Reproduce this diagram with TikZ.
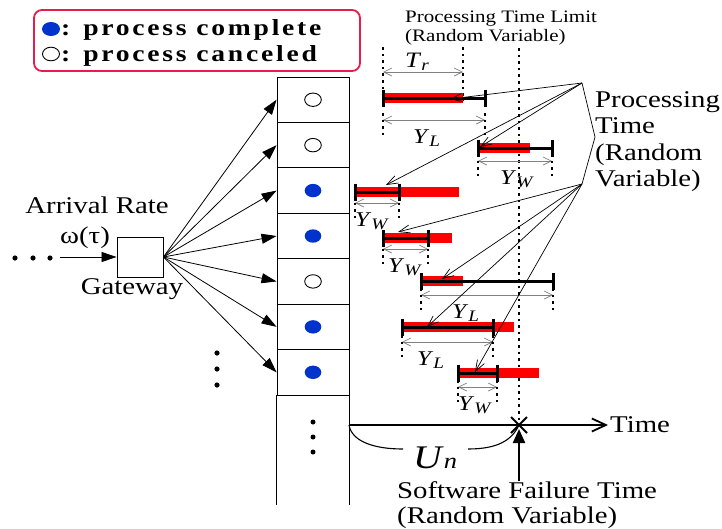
\documentclass[tikz,border=0pt]{standalone}
\usepackage{fontspec}
\setmainfont[FakeStretch=1.2]{Liberation Serif}
\newfontfamily\legendfont[FakeStretch=1.2,LetterSpace=12]{Liberation Serif}
\usetikzlibrary{arrows.meta}
\usetikzlibrary{positioning}
\definecolor{legendred}{RGB}{232,28,72}
\definecolor{doneblue}{RGB}{0,51,204}
\newcommand{\fsz}[1]{\fontsize{#1}{#1}\selectfont}
\newcommand{\rvar}[2]{\textit{#1}\raisebox{-0.15em}{\fsz{16}\textit{#2}}}

\begin{document}
\begin{tikzpicture}[x=1pt, y=-1pt, font=\fsz{24},
  every node/.style={inner sep=0pt},
  cell/.style={draw, line width=0.9pt, minimum width=72pt, minimum height=45.43pt},
  donemark/.style={fill=doneblue},
  cancelmark/.style={draw, fill=white, line width=0.9pt},
  feed/.style={line width=0.8pt, -{Triangle[length=15pt,width=10pt]}},
  pointer/.style={line width=0.7pt, -{Straight Barb[length=11pt,width=8pt]}},
  dimline/.style={gray, line width=0.7pt, {Straight Barb[length=8pt,width=8pt]}-{Straight Barb[length=8pt,width=8pt]}},
  dotline/.style={line width=2.4pt, dash pattern=on 2.6pt off 4pt},
  redbar/.style={red, line width=10pt},
  spanline/.style={line width=3pt},
]
\useasboundingbox (0,0) rectangle (722,528);

% legend
\node[draw=legendred, line width=1.8pt, rounded corners=8pt,
      minimum width=326pt, minimum height=61pt] (legend) at (197,40.5) {};
\fill[doneblue] (51,29) ellipse (9 and 7);
\draw[line width=0.9pt] (51,54) ellipse (8.5 and 6.8);
\node[anchor=base west] (done) at (61,35) {\legendfont\bfseries\fsz{23}: process complete};
\node[anchor=base west] (cancel) at (61,61) {\legendfont\bfseries\fsz{23}: process canceled};

% gateway
\node[draw, line width=0.9pt, minimum width=46pt, minimum height=40pt] (gw) at (140,257) {};
\node (rate) at (97,205) {Arrival Rate};
\node (omega) at (85,238) {ω(τ)};
\node[below=1pt] (gwlbl) at ([xshift=-8pt]gw.south) {Gateway};
\coordinate (src) at (60,257);
\draw[feed] (src) -- (gw.west);
\foreach \x in {15,33,50} \fill (\x,258) circle (2.6);

% cells
\foreach \i/\state in {1/cancelmark,2/cancelmark,3/donemark,4/donemark,5/cancelmark,6/donemark,7/donemark} {
  \node[cell] (c\i) at (313,{77+45.43*(\i-0.5)}) {};
  \path[\state] (c\i) ellipse (8.3 and 6.7);
  \draw[feed] (gw.east) -- (c\i.west);
}
\draw[line width=0.9pt] (c7.south west) -- ++(0,110) (c7.south east) -- ++(0,110);
\foreach \y in {422,437,452} \fill (313,\y) circle (2.5);
\foreach \y in {353,369,385} \fill (217,\y) circle (2.6);

% time axis
\coordinate (origin) at (349,425);
\coordinate (fail) at (519,425);
\coordinate (tend) at (608,425);
\draw[line width=1.8pt, -{Straight Barb[length=14pt,width=13pt]}] (origin) -- (tend);
\node[right=2pt] (timelbl) at (tend) {Time};
\draw[line width=1.8pt] ([shift={(-8,-8)}]fail) -- ([shift={(8,8)}]fail)
  ([shift={(-8,8)}]fail) -- ([shift={(8,-8)}]fail);
\draw[dotline] (519,48) -- (fail);

\draw[line width=1.1pt] (origin) .. controls (352,442) and (375,449) .. (403,449);
\draw[line width=1.1pt] (468,449) .. controls (498,449) and (512,440) .. (fail);
\node[anchor=base west] (un) at (413,468) {\fsz{33}\textit{U}\fsz{22}\textit{n}};

\node[anchor=north west, align=left, font=\fontsize{24}{25}\selectfont] (swf) at (397,481)
  {Software Failure Time\\(Random Variable)};
\draw[line width=2.2pt, -{Triangle[length=14pt,width=12pt]}, shorten >=4pt] (swf.north -| fail) -- (fail);

% time limit
\node[anchor=north west, align=left, font=\fontsize{17.5}{19}\selectfont] (limit) at (405,11)
  {Processing Time Limit\\(Random Variable)};
\draw[dotline] (383,47) -- (383,92);
\draw[dotline] (463,47) -- (463,100);
\draw[dimline] (383,72) -- (463,72);
\node[anchor=base west, font=\fsz{22}] (tr) at (405,67) {\rvar{T}{r}};

% bars
\foreach \i/\y/\s/\e/\r/\sub/\d/\lx in {1/98/383/485/463/L/22/413, 2/148/478/552/530/W/13/500,
    3/192/355/399/459/W/11/355, 4/238/383/428/452/W/11/388, 5/281/421/553/463/L/14/452,
    6/327/402/493/514/L/15/417, 7/373/458/497/539/W/14/458} {
  \draw[redbar] (\s,\y) -- (\r,\y);
  \draw[spanline] (\s,\y) -- (\e,\y);
  \draw[spanline] (\s,\y-8.5) -- (\s,\y+8.5) (\e,\y-8.5) -- (\e,\y+8.5);
  \draw[dimline] (\s,\y+\d) -- (\e,\y+\d);
  \draw[dotline] (\s,\y+\d-7) -- (\s,\y+\d+15) (\e,\y+\d-7) -- (\e,\y+\d+15);
  \node[anchor=base west, font=\fsz{21}] (y\i) at (\lx,\y+\d+23) {\rvar{Y}{\sub}};
}

% processing time pointers
\coordinate (p1) at (582,83);
\coordinate (p2) at (582,184);
\coordinate (bend) at (595,137);
\draw[line width=0.7pt] (p1) -- (bend) -- (p2);
\foreach \t/\x/\y in {1/450/99, 2/480/147, 3/386/185} {
  \coordinate (hit\t) at (\x,\y);
  \draw[pointer] (p1) -- (hit\t);
}
\foreach \t/\x/\y in {4/398/232, 5/442/279, 6/427/327, 7/475/372} {
  \coordinate (hit\t) at (\x,\y);
  \draw[pointer] (p2) -- (hit\t);
}
\node[anchor=north west, align=left, font=\fontsize{24}{26.5}\selectfont] (ptime) at (595,91)
  {Processing\\Time\\(Random\\Variable)};
\end{tikzpicture}
\end{document}
